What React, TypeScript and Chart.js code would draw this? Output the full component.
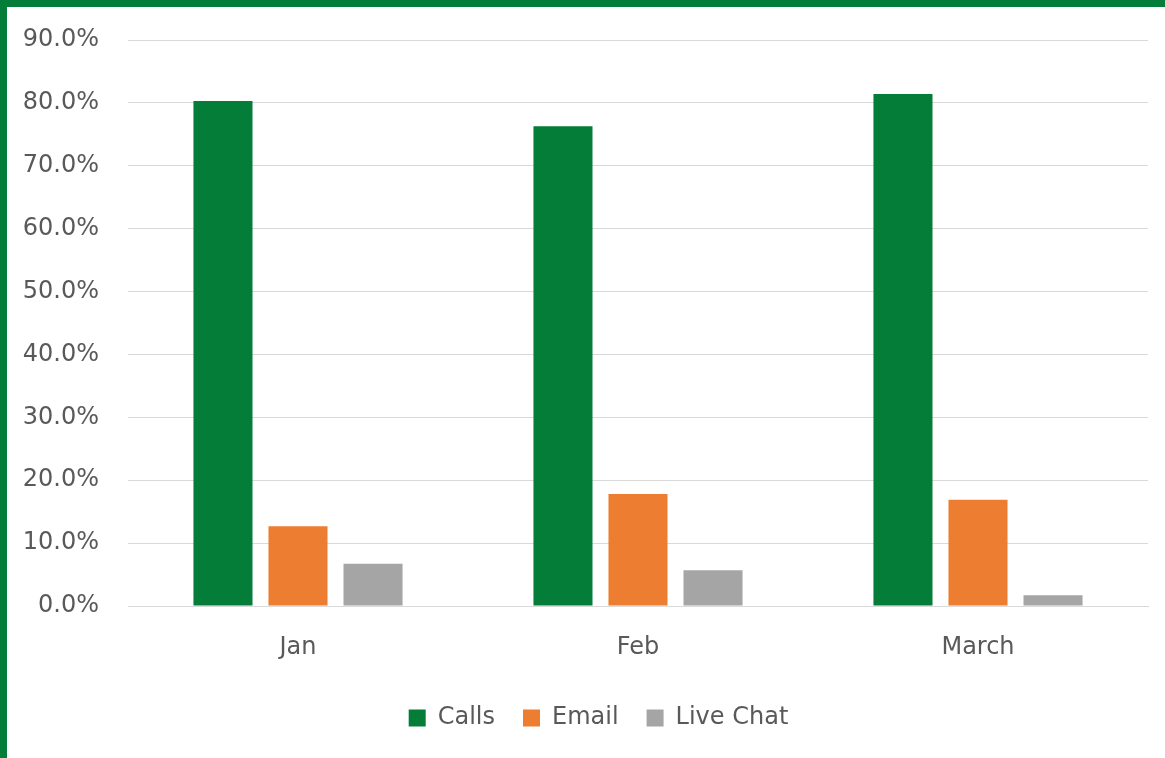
import React, { useEffect, useRef } from "react";
import { Chart, registerables } from "chart.js";

Chart.register(...registerables);

const categories = ["Jan", "Feb", "March"];
const calls = [80.3, 76.3, 81.4];
const email = [12.7, 17.8, 16.9];
const liveChat = [6.7, 5.7, 1.7];
const yTicks = [0, 10, 20, 30, 40, 50, 60, 70, 80, 90];

const FONT = "'DejaVu Sans', sans-serif";
const TEXT = "#595959";

const legendShift = {
  id: "legendShift",
  afterLayout(chart: any) {
    const lg = chart.legend;
    if (!lg) return;
    lg.left += 21;
    lg.right += 21;
  },
};

export default function App() {
  const ref = useRef<HTMLCanvasElement | null>(null);

  useEffect(() => {
    document.body.style.margin = "0";
    const canvas = ref.current;
    if (!canvas) return;
    const chart = new Chart(canvas, {
      type: "bar",
      data: {
        labels: categories,
        datasets: [
          { label: "Calls", data: calls, backgroundColor: "#037D37" },
          { label: "Email", data: email, backgroundColor: "#ED7D31" },
          { label: "Live Chat", data: liveChat, backgroundColor: "#A5A5A5" },
        ],
      },
      plugins: [legendShift],
      options: {
        responsive: false,
        animation: false,
        maintainAspectRatio: false,
        layout: { padding: { top: 33, right: 17, left: 0, bottom: 18 } },
        datasets: {
          bar: { categoryPercentage: 0.662, barPercentage: 0.787 },
        },
        plugins: {
          tooltip: { enabled: false },
          legend: {
            position: "bottom",
            labels: {
              boxWidth: 17,
              boxHeight: 17,
              padding: 28,
              color: TEXT,
              font: { family: FONT, size: 24 },
            },
          },
        },
        scales: {
          x: {
            grid: { display: false, drawTicks: false },
            border: { color: "#D9D9D9", width: 1 },
            ticks: {
              color: TEXT,
              font: { family: FONT, size: 24 },
              padding: 27,
            },
            afterFit: (s: any) => {
              s.height = 72;
            },
          },
          y: {
            min: 0,
            max: 90,
            afterBuildTicks: (s: any) => {
              s.ticks = yTicks.map((v) => ({ value: v }));
            },
            grid: { color: "#D9D9D9", lineWidth: 1, drawTicks: false },
            border: { display: false },
            ticks: {
              color: TEXT,
              font: { family: FONT, size: 24 },
              padding: 29,
              callback: (v: any) => Number(v).toFixed(1) + "%",
            },
            afterFit: (s: any) => {
              s.width = 121;
              s.paddingTop = 0;
              s.paddingBottom = 0;
            },
          },
        },
      },
    } as any);
    return () => chart.destroy();
  }, []);

  return (
    <div
      style={{
        width: 1165,
        height: 758,
        boxSizing: "border-box",
        borderTop: "7px solid #037D37",
        borderLeft: "7px solid #037D37",
        background: "#fff",
      }}
    >
      <canvas ref={ref} width={1158} height={751} style={{ display: "block" }} />
    </div>
  );
}
